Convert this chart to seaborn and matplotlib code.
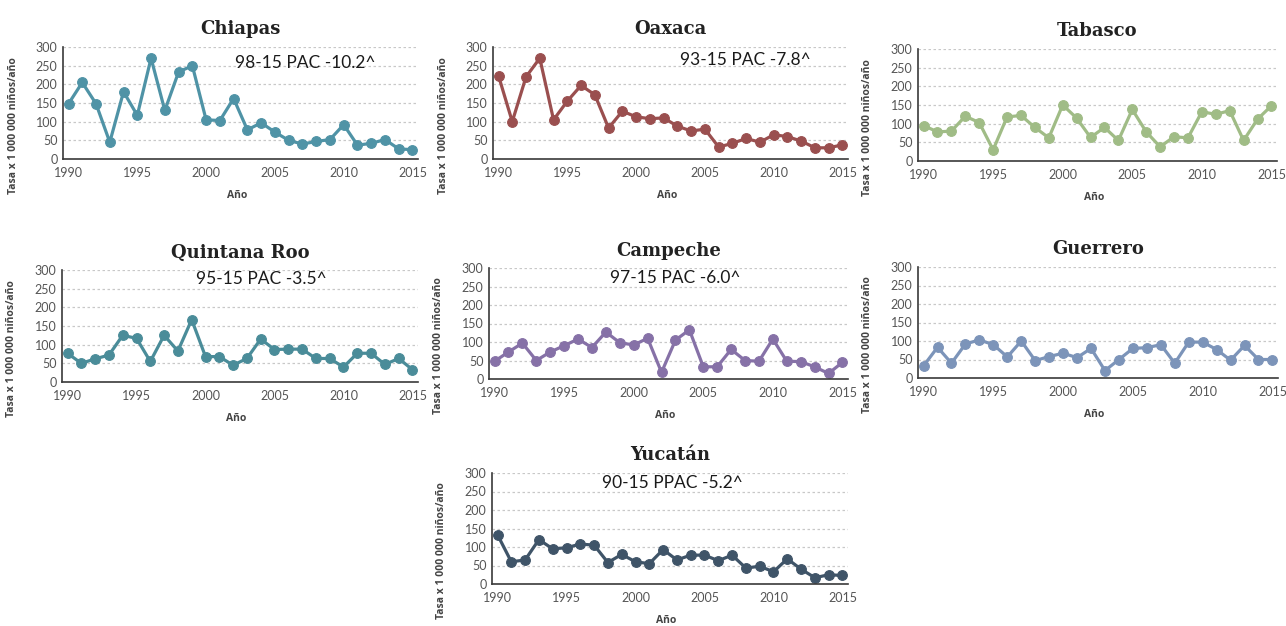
import pandas as pd
import matplotlib.pyplot as plt
import matplotlib.ticker as mticker
import seaborn as sns

years = list(range(1990, 2016))

chiapas = [148, 205, 148, 45, 180, 117, 270, 130, 233, 250, 105, 103, 162,
           78, 97, 72, 50, 40, 47, 52, 92, 37, 42, 52, 27, 25]
oaxaca = [223, 100, 220, 270, 105, 155, 197, 172, 83, 128, 113, 108, 110,
          88, 75, 80, 32, 42, 55, 45, 65, 60, 48, 30, 30, 38]
tabasco = [95, 78, 80, 120, 103, 30, 118, 122, 90, 62, 150, 115, 63,
           90, 55, 138, 78, 38, 65, 62, 132, 125, 135, 55, 112, 148]
quintana_roo = [77, 50, 62, 72, 125, 117, 55, 125, 83, 167, 68, 68, 45,
                63, 115, 87, 88, 88, 63, 63, 40, 77, 77, 47, 63, 33]
campeche = [48, 73, 97, 50, 73, 90, 108, 85, 127, 98, 92, 110, 18,
            105, 133, 33, 33, 80, 50, 48, 108, 48, 47, 33, 15, 45]
guerrero = [33, 83, 40, 92, 103, 90, 57, 100, 47, 58, 67, 55, 80,
            20, 50, 80, 82, 90, 40, 97, 97, 77, 48, 88, 50, 50]
yucatan = [133, 60, 65, 120, 95, 98, 108, 105, 58, 80, 60, 55, 93,
           65, 78, 78, 63, 78, 43, 48, 33, 68, 40, 17, 25, 23]

states = ['Chiapas', 'Oaxaca', 'Tabasco', 'Quintana Roo', 'Campeche', 'Guerrero', 'Yucatán']
series = [chiapas, oaxaca, tabasco, quintana_roo, campeche, guerrero, yucatan]
notes = ['98-15 PAC -10.2^', '93-15 PAC -7.8^', None, '95-15 PAC -3.5^',
         '97-15 PAC -6.0^', None, '90-15 PPAC -5.2^']

colors = ['#4f93a6', '#9a4f4f', '#a0bc86', '#4a8c99', '#8671a7', '#7c94b9', '#3f5468']
note_pos = [(2002.1, 258), (2003.2, 265), None, (1999.3, 277), (1998.3, 273), None, (1997.6, 273)]

# axes rectangles in pixels: left, right, top(300), bottom(0)
W, H = 1286, 626
boxes = [(63, 418, 47, 159), (493, 848, 47, 159), (918, 1277, 49, 161),
         (62, 418, 270, 382), (489, 848, 268, 379), (918, 1278, 267, 378),
         (492, 848, 473, 584)]

df = pd.concat([pd.DataFrame({'state': s, 'year': years, 'rate': v})
                for s, v in zip(states, series)], ignore_index=True)

sns.set_theme(style='white')
plt.rcParams['font.family'] = ['Lato', 'DejaVu Sans']

fig = plt.figure(figsize=(W / 100, H / 100), dpi=100)

for i, state in enumerate(states):
    l, r, t, b = boxes[i]
    ax = fig.add_axes([l / W, 1 - b / H, (r - l) / W, (b - t) / H])
    sub = df[df['state'] == state]
    sns.lineplot(data=sub, x='year', y='rate', ax=ax, color=colors[i],
                 linewidth=2.3, marker='o', markersize=7,
                 markeredgecolor=colors[i], markeredgewidth=0.8)

    ax.set_xlim(1989.6, 2015.4)
    ax.set_ylim(0, 300)
    ax.yaxis.set_major_locator(mticker.MultipleLocator(50))
    ax.xaxis.set_major_locator(mticker.MultipleLocator(5))
    ax.xaxis.set_minor_locator(mticker.MultipleLocator(1))
    ax.grid(axis='y', color='#c8c8c8', linestyle=(0, (2, 2)), linewidth=0.9)
    ax.set_axisbelow(True)
    for side in ['top', 'right']:
        ax.spines[side].set_visible(False)
    for side in ['left', 'bottom']:
        ax.spines[side].set_color('#3a3a3a')
        ax.spines[side].set_linewidth(1.2)
    ax.tick_params(axis='x', which='both', direction='inout', length=5,
                   width=1, color='#3a3a3a', labelsize=9, labelcolor='#555555', pad=3)
    ax.tick_params(axis='y', direction='in', length=0, labelsize=9,
                   labelcolor='#555555', pad=4)

    ax.set_title(state, fontsize=13, fontweight='bold', family='DejaVu Serif',
                 color='#222222', pad=9)
    ax.set_xlabel('Año', fontsize=7.5, fontweight='bold', family='Open Sans',
                  color='#444444')
    ax.set_ylabel('Tasa x 1 000 000 niños/año', fontsize=7.5, fontweight='bold',
                  family='Open Sans', color='#444444')
    ax.xaxis.set_label_coords(0.49, -0.28)
    ax.yaxis.set_label_coords(-0.125, 0.30)

    if notes[i]:
        ax.text(note_pos[i][0], note_pos[i][1], notes[i], fontsize=12.5,
                color='#1a1a1a', ha='left', va='center')

fig.savefig('out.png', dpi=100, facecolor='white')
